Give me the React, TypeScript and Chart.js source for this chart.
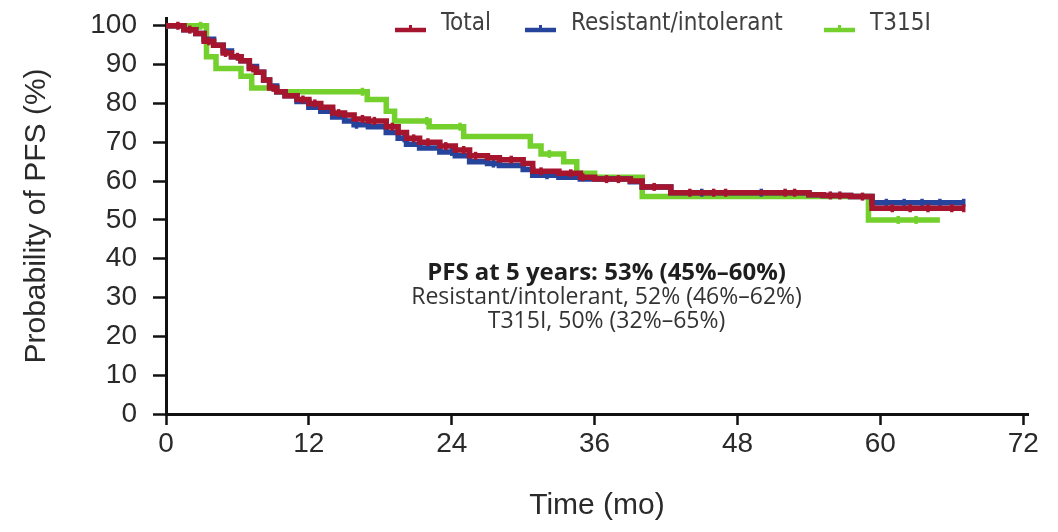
import React, { useEffect, useRef } from "react";
import { Chart, registerables } from "chart.js";

Chart.register(...registerables);

// ---- Data (Kaplan-Meier step points: time in months, PFS %) ----
const totalTimes = [0, 1.5, 2.5, 3.2, 4, 4.8, 5.5, 6.3, 7, 7.6, 8.2, 8.7, 9.3, 10, 11, 12, 13, 14, 15, 15.8, 17, 18.5, 19.5, 20.2, 21.3, 23, 24.3, 25.5, 27, 28, 30, 30.8, 33, 34.8, 36, 39, 40, 42.4, 54, 55.2, 57.5, 59.3, 67];
const totalValues = [100, 99, 98, 96, 95, 93, 92, 91, 89, 88, 86, 84, 83, 82, 81, 80, 79, 77.5, 77, 76, 75.5, 74, 72.5, 71, 70, 69, 68, 66.5, 66, 65.5, 64.5, 62.5, 62, 61, 60.5, 60, 58.5, 57, 56.5, 56.3, 56, 53, 53];
const totalCensor = [1, 2, 3.6, 5, 6, 7.3, 9, 11.5, 12.5, 14.5, 16.5, 17.5, 19, 20.8, 22, 23.5, 25, 26, 29, 31.5, 34, 35, 37, 38, 41, 44, 46, 47, 52, 52.8, 55.8, 56.6, 58.5, 61, 62.5, 64, 66, 67];

const resistantTimes = [0, 1.5, 2.5, 3.2, 4, 4.8, 5.5, 6.3, 7, 7.6, 8.2, 8.7, 9.3, 10, 11, 12, 13, 14, 15, 15.8, 17, 18.5, 19.5, 20.2, 21.3, 23, 24.3, 25.5, 27, 28, 30, 30.8, 33, 34.8, 39, 40, 42.4, 54, 55.2, 57.5, 59.3, 67];
const resistantValues = [100, 99, 98, 96.5, 95, 93.5, 92, 91, 89.5, 88, 86, 84.5, 83, 82, 80.5, 79, 78, 76.5, 75.5, 74.5, 74, 72.5, 71, 69.5, 68.5, 67.5, 66.5, 65, 64.5, 64, 63, 61.5, 61, 60.5, 59.8, 58.5, 57, 56.5, 56.3, 56, 54.4, 54.4];
const resistantCensor = [16, 20, 24, 27.5, 32, 45, 50, 60.5, 62, 63.5, 65, 67];

const t315iTimes = [0, 3.4, 4.2, 6.3, 7.2, 9.3, 16.9, 18.5, 19.2, 22.1, 25, 30.6, 31.5, 33.4, 34.5, 36, 40, 59, 65];
const t315iValues = [100, 92, 89, 87, 84, 83, 81, 78, 75.5, 74, 71.5, 69, 67, 65, 62, 61, 56, 50, 50];
const t315iCensor = [2.9, 16.5, 21.9, 24.7, 32.2, 61.5, 63];

const xTicks = [0, 12, 24, 36, 48, 60, 72];
const yTicks = [0, 10, 20, 30, 40, 50, 60, 70, 80, 90, 100];

const seriesLabels = ["Total", "Resistant/intolerant", "T315I"];
const seriesColors = ["#A5152D", "#26449C", "#74D02C"];
const noteLines = [
  "PFS at 5 years: 53% (45%\u201360%)",
  "Resistant/intolerant, 52% (46%\u201362%)",
  "T315I, 50% (32%\u201365%)",
];

const AXIS_FONT = '"Liberation Sans", Arial, sans-serif';
const LEGEND_FONT = '"Liberation Sans Narrow", "DejaVu Sans Condensed", sans-serif';
const TEXT_FONT = '"Open Sans", "Noto Sans", sans-serif';

function toPoints(times: number[], values: number[]) {
  return times.map((t, i) => ({ x: t, y: values[i] }));
}
function stepValue(times: number[], values: number[], t: number) {
  let v = values[0];
  for (let i = 0; i < times.length; i++) {
    if (times[i] <= t) v = values[i];
  }
  return v;
}
function censorPoints(times: number[], values: number[], censor: number[]) {
  return censor.map((t) => ({ x: t, y: stepValue(times, values, t) }));
}

const legendPlugin = {
  id: "kmLegend",
  afterDraw(chart: any) {
    const ctx = chart.ctx;
    const starts = [395, 525, 824];
    const y = 24;
    ctx.save();
    ctx.font = `24px ${LEGEND_FONT}`;
    ctx.textBaseline = "middle";
    ctx.textAlign = "left";
    seriesLabels.forEach((label, i) => {
      const x = starts[i];
      ctx.strokeStyle = seriesColors[i];
      ctx.lineWidth = 4.5;
      ctx.beginPath();
      ctx.moveTo(x, y + 6);
      ctx.lineTo(x + 31, y + 6);
      ctx.stroke();
      ctx.lineWidth = 3;
      ctx.beginPath();
      ctx.moveTo(x + 15.5, y + 6);
      ctx.lineTo(x + 15.5, y + 1);
      ctx.stroke();
      ctx.fillStyle = "#404040";
      ctx.fillText(label, x + 46, y);
    });
    ctx.restore();
  },
};

const notePlugin = {
  id: "kmNote",
  afterDraw(chart: any) {
    const ctx = chart.ctx;
    const xs = chart.scales.x;
    const ys = chart.scales.y;
    const cx = xs.getPixelForValue(37);
    ctx.save();
    ctx.textAlign = "center";
    ctx.textBaseline = "middle";
    ctx.fillStyle = "#1e1e1e";
    ctx.font = `bold 24px ${TEXT_FONT}`;
    ctx.fillText(noteLines[0], cx, ys.getPixelForValue(36.2));
    ctx.fillStyle = "#333";
    ctx.font = `23px ${TEXT_FONT}`;
    ctx.fillText(noteLines[1], cx, ys.getPixelForValue(30));
    ctx.fillText(noteLines[2], cx, ys.getPixelForValue(23.8));
    ctx.restore();
  },
};

export default function App() {
  const ref = useRef<HTMLCanvasElement | null>(null);

  useEffect(() => {
    document.body.style.margin = "0";
    const canvas = ref.current;
    if (!canvas) return;

    const lineDs = (label: string, color: string, times: number[], values: number[], order: number) => ({
      label,
      data: toPoints(times, values),
      borderColor: color,
      backgroundColor: color,
      borderWidth: 5.5,
      stepped: "before" as const,
      pointRadius: 0,
      fill: false,
      order,
    });
    const censorDs = (label: string, color: string, times: number[], values: number[], censor: number[], order: number) => ({
      label,
      data: censorPoints(times, values, censor),
      showLine: false,
      borderColor: color,
      backgroundColor: color,
      pointStyle: "line" as const,
      rotation: 90,
      pointRadius: 4,
      pointBorderWidth: 3.5,
      order,
    });

    const chart = new Chart(canvas, {
      type: "line",
      data: {
        datasets: [
          lineDs(seriesLabels[0], seriesColors[0], totalTimes, totalValues, 1),
          censorDs(seriesLabels[0] + " censored", seriesColors[0], totalTimes, totalValues, totalCensor, 0),
          lineDs(seriesLabels[1], seriesColors[1], resistantTimes, resistantValues, 3),
          censorDs(seriesLabels[1] + " censored", seriesColors[1], resistantTimes, resistantValues, resistantCensor, 2),
          lineDs(seriesLabels[2], seriesColors[2], t315iTimes, t315iValues, 5),
          censorDs(seriesLabels[2] + " censored", seriesColors[2], t315iTimes, t315iValues, t315iCensor, 4),
        ],
      },
      options: {
        responsive: false,
        animation: false,
        layout: { padding: { top: 18, right: 30, left: 0, bottom: 0 } },
        plugins: {
          legend: { display: false },
          tooltip: { enabled: false },
        },
        scales: {
          x: {
            type: "linear",
            min: 0,
            max: 72.4,
            afterBuildTicks: (axis: any) => {
              axis.ticks = xTicks.map((v) => ({ value: v }));
            },
            afterFit: (axis: any) => {
              axis.height = 118;
              axis.paddingLeft = 0;
              axis.paddingRight = 0;
            },
            ticks: {
              autoSkip: false,
              maxRotation: 0,
              padding: 2,
              color: "#2a2a2a",
              font: { family: AXIS_FONT, size: 28 },
            },
            grid: { drawOnChartArea: false, tickLength: 11, tickWidth: 2.5, tickColor: "#111" },
            border: { color: "#111", width: 3 },
            title: {
              display: true,
              text: "Time (mo)",
              color: "#2a2a2a",
              font: { family: AXIS_FONT, size: 30 },
              padding: { top: 0, bottom: 8 },
            },
          },
          y: {
            type: "linear",
            min: 0,
            max: 102,
            afterBuildTicks: (axis: any) => {
              axis.ticks = yTicks.map((v) => ({ value: v }));
            },
            afterFit: (axis: any) => {
              axis.width = 166;
              axis.paddingTop = 0;
              axis.paddingBottom = 0;
            },
            ticks: {
              autoSkip: false,
              padding: 16,
              color: "#2a2a2a",
              font: { family: AXIS_FONT, size: 28 },
            },
            grid: { drawOnChartArea: false, tickLength: 13, tickWidth: 2.5, tickColor: "#111" },
            border: { color: "#111", width: 3 },
            title: {
              display: true,
              text: "Probability of PFS (%)",
              color: "#2a2a2a",
              font: { family: AXIS_FONT, size: 30 },
              padding: { top: 19, bottom: 0 },
            },
          },
        },
      },
      plugins: [legendPlugin, notePlugin],
    });

    return () => chart.destroy();
  }, []);

  return (
    <div style={{ width: 1058, height: 532, background: "#fff" }}>
      <canvas ref={ref} width={1058} height={532} />
    </div>
  );
}
